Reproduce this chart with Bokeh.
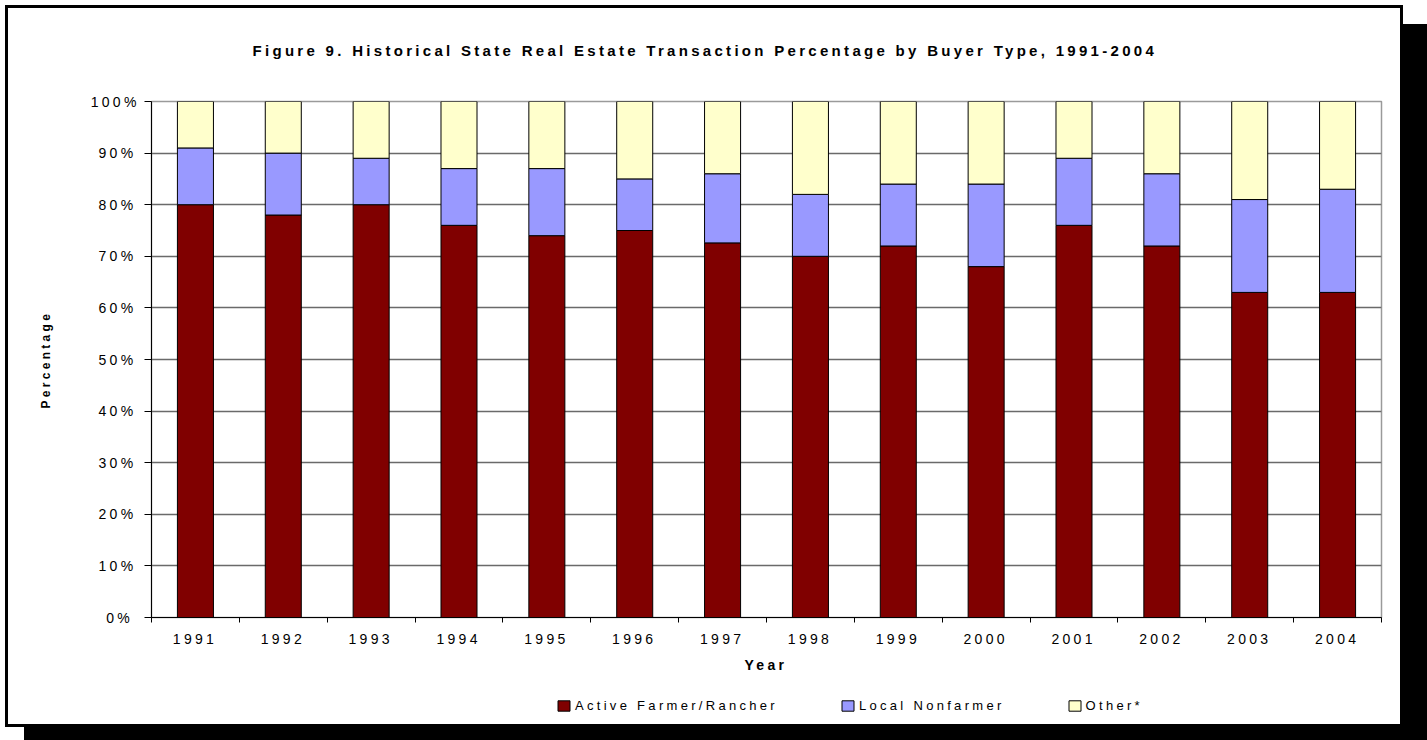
from bokeh.plotting import figure
from bokeh.layouts import column
from bokeh.models import (Range1d, FixedTicker, PrintfTickFormatter, Legend,
                          LegendItem, Title, ColumnDataSource)
from bokeh.embed import file_html
from bokeh.resources import INLINE

# ---------------- data ----------------
years = ["1991", "1992", "1993", "1994", "1995", "1996", "1997",
         "1998", "1999", "2000", "2001", "2002", "2003", "2004"]
active_farmer = [80, 78, 80, 76, 74, 75, 72.6, 70, 72, 68, 76, 72, 63, 63]
local_nonfarmer = [11, 12, 9, 11, 13, 10, 13.4, 12, 12, 16, 13, 14, 18, 20]
other = [9, 10, 11, 13, 13, 15, 14, 18, 16, 16, 11, 14, 19, 17]
series_names = ["Active Farmer/Rancher", "Local Nonfarmer", "Other*"]
series_colors = ["#800000", "#9999FF", "#FFFFCC"]
y_ticks = [0, 10, 20, 30, 40, 50, 60, 70, 80, 90, 100]
title_text = "Figure 9.  Historical State Real Estate Transaction Percentage by Buyer Type, 1991-2004"
x_title = "Year"
y_title = "Percentage"

FONT = "Liberation Sans"
LABEL_SHIFT = -0.08   # compensates the letter-spacing of centred tick labels

x_centers = [i + 0.5 for i in range(len(years))]
x_bounds = list(range(len(years) + 1))
label_ticks = [c + LABEL_SHIFT for c in x_centers]

source = ColumnDataSource(dict(x=x_centers, year=years, active=active_farmer,
                               local=local_nonfarmer, other=other))
stack_fields = ["active", "local", "other"]

# ---------------- main chart ----------------
p = figure(width=1427, height=694, output_backend="svg", toolbar_location=None,
           x_range=Range1d(0, len(years)), y_range=Range1d(0, 100),
           min_border_left=151, min_border_right=46, min_border_top=101,
           min_border_bottom=77, border_fill_alpha=0,
           background_fill_color="white", outline_line_color="#9a9a9a",
           outline_line_width=1.5)

p.title = Title(text=title_text, align="left", offset=101, standoff=82,
                vertical_align="top", text_font=FONT, text_font_size="15px",
                text_font_style="bold", text_color="black")

renderers = p.vbar_stack(stack_fields, x="x", width=0.41,
                         source=source, fill_color=series_colors,
                         line_color="black", line_width=1)

p.xgrid.visible = False
p.ygrid.ticker = FixedTicker(ticks=y_ticks)
p.ygrid.grid_line_color = "#6a6a6a"
p.ygrid.grid_line_width = 1.5

yax = p.yaxis[0]
yax.ticker = FixedTicker(ticks=y_ticks)
yax.formatter = PrintfTickFormatter(format="%d%%")
yax.major_label_text_font = FONT
yax.major_label_text_font_size = "14px"
yax.major_label_text_color = "black"
yax.major_label_standoff = 18
yax.major_tick_out = 7
yax.major_tick_in = 0
yax.minor_tick_out = 0
yax.minor_tick_in = 0
yax.axis_line_color = "black"
yax.major_tick_line_color = "black"

p.add_layout(Title(text=y_title, align="left", offset=209, standoff=70,
                   vertical_align="bottom", text_font=FONT,
                   text_font_size="12px", text_font_style="bold",
                   text_color="black"), "left")

xax = p.xaxis[0]
xax.ticker = FixedTicker(ticks=label_ticks, minor_ticks=x_bounds)
xax.major_label_overrides = {c: y for c, y in zip(label_ticks, years)}
xax.major_label_text_font = FONT
xax.major_label_text_font_size = "14px"
xax.major_label_text_color = "black"
xax.major_label_standoff = 11
xax.major_tick_out = 0
xax.major_tick_in = 0
xax.minor_tick_out = 5
xax.minor_tick_in = 0
xax.minor_tick_line_color = "black"
xax.axis_line_color = "black"

p.add_layout(Title(text=x_title, align="left", offset=593, standoff=20,
                   vertical_align="top", text_font=FONT,
                   text_font_size="14px", text_font_style="bold",
                   text_color="black"), "below")

# ---------------- legend strip ----------------
pl = figure(width=1427, height=46, output_backend="svg", toolbar_location=None,
            x_range=Range1d(0, len(years)), y_range=Range1d(0, 100), min_border=0,
            x_axis_type=None, y_axis_type=None, border_fill_alpha=0,
            background_fill_alpha=0, outline_line_color=None)
pl.xgrid.visible = False
pl.ygrid.visible = False
legend_renderers = pl.vbar_stack(stack_fields, x="x", width=0.41, source=source,
                                 fill_color=series_colors, line_color="black",
                                 line_width=1, visible=False)
legend = Legend(items=[LegendItem(label=n, renderers=[r])
                       for n, r in zip(series_names, legend_renderers)],
                location=(405, 27), orientation="horizontal",
                padding=0, margin=0, spacing=62,
                border_line_alpha=0, background_fill_alpha=0,
                glyph_width=15, glyph_height=13, label_standoff=4,
                label_height=10, label_text_font=FONT,
                label_text_font_size="13px", label_text_color="black")
pl.add_layout(legend)

layout = column(p, pl, spacing=0)
layout.styles = {
    "background": ("linear-gradient(#fff,#fff) 8px 8px / 1392px 716px no-repeat, "
                   "linear-gradient(#000,#000) 5px 5px / 1398px 722px no-repeat, "
                   "linear-gradient(#000,#000) 24px 24px / 1403px 716px no-repeat, #fff"),
    "letter-spacing": "3.3px",
}

open("out.html", "w").write(file_html(layout, INLINE))
